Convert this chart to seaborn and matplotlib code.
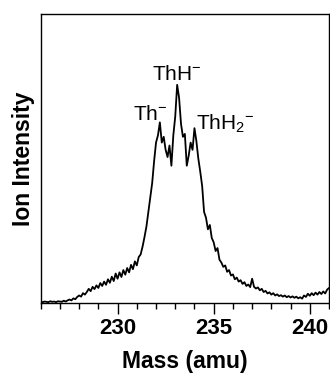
import numpy as np
import pandas as pd
import matplotlib
matplotlib.use("Agg")
import matplotlib.pyplot as plt
from matplotlib.ticker import MultipleLocator
import seaborn as sns

# mass axis: 226.0 .. 241.0 amu, 0.1 amu per channel
mass = np.round(np.arange(226.0, 241.05, 0.1), 1)

# ion intensity (arbitrary units, 0-100)
intensity = [
    0.4, 0.3, 0.5, 0.4, 0.3, 0.6, 0.4, 0.5, 0.3, 0.6,
    0.5, 0.4, 0.8, 0.5, 0.9, 1.2, 0.9, 1.6, 1.3, 2.1,
    2.6, 2.2, 3.4, 2.9, 3.8, 4.9, 4.1, 5.6, 4.8, 6.1,
    5.2, 6.9, 5.9, 7.4, 6.3, 8.2, 7.0, 9.1, 7.6, 10.2,
    8.4, 10.6, 9.0, 11.4, 9.8, 12.1, 10.6, 13.2, 11.7, 14.4,
    13.0, 15.9, 16.8, 19.5, 22.8, 26.4, 31.5, 36.8, 41.5, 49.0,
    55.5, 58.0, 62.5, 55.5, 57.5, 53.0, 50.5, 54.5, 47.5, 58.0,
    64.5, 75.5, 71.0, 62.0, 57.5, 58.5, 47.5, 51.0, 55.5, 53.0,
    60.5, 56.0, 50.0, 45.5, 40.5, 31.5, 29.5, 25.5, 27.0, 22.5,
    21.0, 18.0, 19.0, 15.0, 14.0, 12.5, 13.0, 10.8, 11.4, 9.5,
    9.9, 8.2, 8.8, 7.4, 7.9, 6.6, 7.2, 5.9, 6.4, 5.5,
    8.4, 5.6, 5.0, 5.4, 4.4, 4.9, 3.8, 4.2, 3.3, 3.7,
    2.9, 3.4, 2.6, 3.0, 2.4, 2.7, 2.2, 2.6, 2.0, 2.4,
    1.9, 2.3, 1.8, 2.2, 1.6, 2.0, 1.5, 2.6, 2.1, 3.2,
    2.5, 3.4, 2.7, 3.6, 2.9, 3.8, 3.1, 4.0, 3.3, 4.6,
    5.2,
]

# peak labels: text, mass, intensity (baseline of label)
peak_labels = [r"Th$^{-}$", r"ThH$^{-}$", r"ThH$_{2}{}^{-}$"]
peak_mass = [230.8, 231.8, 234.1]
peak_height = [63.3, 77.2, 59.9]

df = pd.DataFrame({"Mass": mass, "Intensity": intensity})

sns.set_style("ticks")
plt.rcParams["font.family"] = ["Liberation Sans", "DejaVu Sans"]
plt.rcParams["mathtext.fontset"] = "custom"
plt.rcParams["mathtext.rm"] = "Liberation Sans"
plt.rcParams["mathtext.it"] = "Liberation Sans"
plt.rcParams["mathtext.bf"] = "Liberation Sans:bold"
plt.rcParams["text.color"] = "black"
plt.rcParams["axes.labelcolor"] = "black"
plt.rcParams["xtick.color"] = "black"
plt.rcParams["ytick.color"] = "black"

fig = plt.figure(figsize=(3.3, 3.77), dpi=100)
ax = fig.add_axes([0.1233, 0.1963, 0.8737, 0.7666])

sns.lineplot(data=df, x="Mass", y="Intensity", ax=ax, color="black", linewidth=1.3)

for label, x, y in zip(peak_labels, peak_mass, peak_height):
    ax.text(x, y, label, fontsize=15, ha="left", va="baseline", color="black")

ax.set_xlim(226, 241)
ax.set_ylim(0, 100)
ax.xaxis.set_major_locator(MultipleLocator(5))
ax.xaxis.set_minor_locator(MultipleLocator(1))
ax.set_yticks([])
ax.tick_params(axis="x", which="major", direction="out", length=8, width=1.0,
               labelsize=16, pad=3, colors="black", labelcolor="black")
ax.tick_params(axis="x", which="minor", direction="out", length=4, width=1.0, colors="black")
for lbl in ax.get_xticklabels():
    lbl.set_fontweight("bold")

for side in ["top", "right", "left", "bottom"]:
    ax.spines[side].set_visible(True)
    ax.spines[side].set_linewidth(1.0)
    ax.spines[side].set_color("black")

ax.set_xlabel("Mass (amu)", fontsize=16.5, fontweight="bold", labelpad=8, color="black")
ax.set_ylabel("Ion Intensity", fontsize=16.5, fontweight="bold", labelpad=4, color="black")

fig.savefig("out.png", dpi=100)
plt.close("all")
